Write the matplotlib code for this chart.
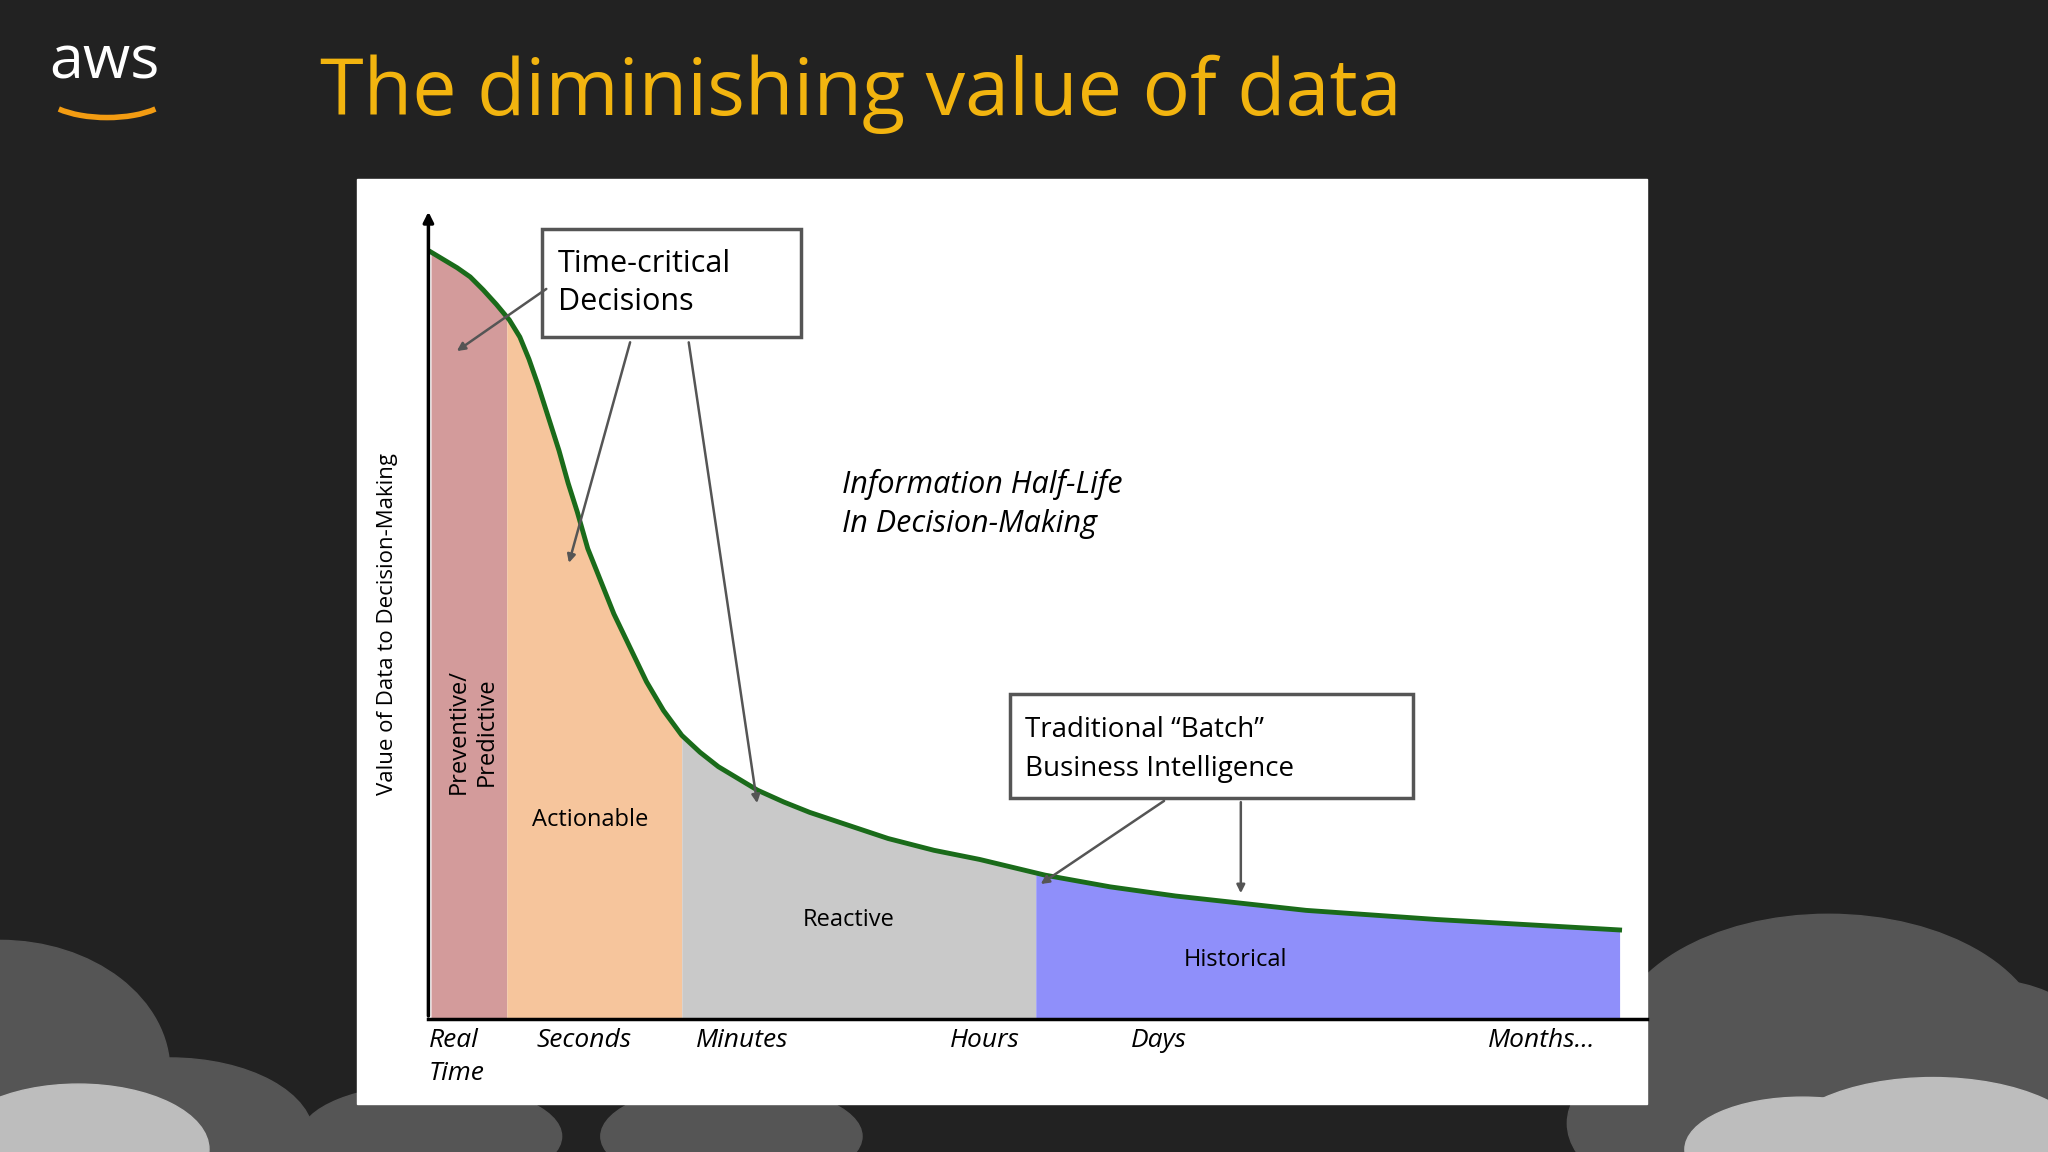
import matplotlib
matplotlib.use("Agg")
import matplotlib.pyplot as plt
import numpy as np
from matplotlib.patches import Rectangle, Ellipse, Arc

plt.rcParams['font.family'] = ['Open Sans', 'DejaVu Sans']

# ---- data (curve) ----
curve_x = [330, 340, 350, 360, 370, 380, 390, 398, 405, 412, 420, 428, 435, 442, 450, 460, 470, 482, 495, 508, 522, 536, 550, 565, 580, 600, 620, 650, 680, 715, 750, 800, 850, 900, 1000, 1100, 1240]
curve_v = [587, 581, 575, 568, 558, 547, 535, 522, 505, 485, 460, 435, 410, 388, 360, 335, 310, 285, 258, 236, 217, 204, 193, 184, 175, 166, 158, 148, 138, 129, 122, 110, 101, 94, 83, 76, 68]
region_bounds = [330, 388, 522, 793, 1240]
region_colors = ['#d39b9b', '#f6c59c', '#c9c9c9', '#8f8ffa']
x_ticks = [350, 447, 568, 754, 887, 1180]
x_labels = ['Real\nTime', 'Seconds', 'Minutes', 'Hours', 'Days', 'Months...']

fig = plt.figure(figsize=(20.48, 11.52), dpi=100)
fig.patch.set_facecolor('#222222')
ax = fig.add_axes([0, 0, 1, 1])
ax.set_xlim(0, 1568)
ax.set_ylim(882, 0)
ax.axis('off')

# clouds
for cx, cy, w, h in [(0, 820, 260, 200), (130, 870, 220, 120), (330, 870, 200, 80), (560, 870, 200, 80),
                     (1400, 800, 330, 200), (1520, 830, 200, 160), (1300, 860, 200, 120)]:
    ax.add_patch(Ellipse((cx, cy), w, h, color='#555555', zorder=0))
for cx, cy, w, h in [(60, 880, 200, 100), (1480, 880, 240, 110), (1380, 880, 180, 80)]:
    ax.add_patch(Ellipse((cx, cy), w, h, color='#bdbdbd', zorder=0.5))

# logo + title
ax.text(80, 48, 'aws', color='white', fontsize=44, ha='center', va='center')
ax.add_patch(Arc((82, 70), 100, 40, theta1=20, theta2=160, color='#f39c12', lw=4))
ax.text(245, 72, 'The diminishing value of data', color='#f2b40f', fontsize=57, va='center')

# white panel
ax.add_patch(Rectangle((273, 137), 988, 708, color='white', zorder=1))

base = 780
xs = np.array(curve_x, float)
ys = base - np.array(curve_v, float)
for i in range(4):
    lo, hi = region_bounds[i], region_bounds[i + 1]
    xx = np.linspace(lo, hi, 200)
    yy = np.interp(xx, xs, ys)
    ax.fill_between(xx, yy, base, color=region_colors[i], zorder=2, lw=0)
ax.plot(xs, ys, color='#1a6b1a', lw=3.5, zorder=3, solid_joinstyle='round')

# axes
ax.plot([328, 1261], [base, base], color='black', lw=2.5, zorder=4)
ax.annotate('', xy=(328, 160), xytext=(328, base), zorder=4,
            arrowprops=dict(arrowstyle='-|>', color='black', lw=2.5, mutation_scale=15))
ax.text(297, 478, 'Value of Data to Decision-Making', rotation=90, fontsize=16, ha='center', va='center', zorder=5)
for x, l in zip(x_ticks, x_labels):
    first = l.startswith('Real')
    ax.text(328 if first else x, 787, l, fontsize=19, style='italic', va='top',
            ha='left' if first else 'center', linespacing=1.4, zorder=5)

# region labels
ax.text(362, 560, 'Preventive/\nPredictive', rotation=90, fontsize=17, ha='center', va='center', zorder=5)
ax.text(452, 628, 'Actionable', fontsize=17, ha='center', va='center', zorder=5)
ax.text(650, 704, 'Reactive', fontsize=17, ha='center', va='center', zorder=5)
ax.text(946, 735, 'Historical', fontsize=17, ha='center', va='center', zorder=5)

ax.text(645, 386, 'Information Half-Life\nIn Decision-Making', fontsize=22, style='italic',
        va='center', linespacing=1.4, zorder=5)

# boxes
ax.add_patch(Rectangle((415, 175), 198, 83, fill=False, ec='#555555', lw=2.5, zorder=5))
ax.text(427, 217, 'Time-critical\nDecisions', fontsize=22, va='center', linespacing=1.35, zorder=6)
ax.add_patch(Rectangle((773, 531), 309, 80, fill=False, ec='#555555', lw=2.5, zorder=5))
ax.text(785, 574, 'Traditional \u201cBatch\u201d\nBusiness Intelligence', fontsize=20, va='center', linespacing=1.5, zorder=6)

arrows = [((420, 220), (348, 270)), ((483, 260), (435, 433)), ((527, 260), (580, 617)),
          ((893, 612), (795, 678)), ((950, 612), (950, 686))]
for (x0, y0), (x1, y1) in arrows:
    ax.annotate('', xy=(x1, y1), xytext=(x0, y0), zorder=6,
                arrowprops=dict(arrowstyle='-|>', color='#555555', lw=1.8, mutation_scale=12))

fig.savefig('out.png', dpi=100, facecolor=fig.get_facecolor())
